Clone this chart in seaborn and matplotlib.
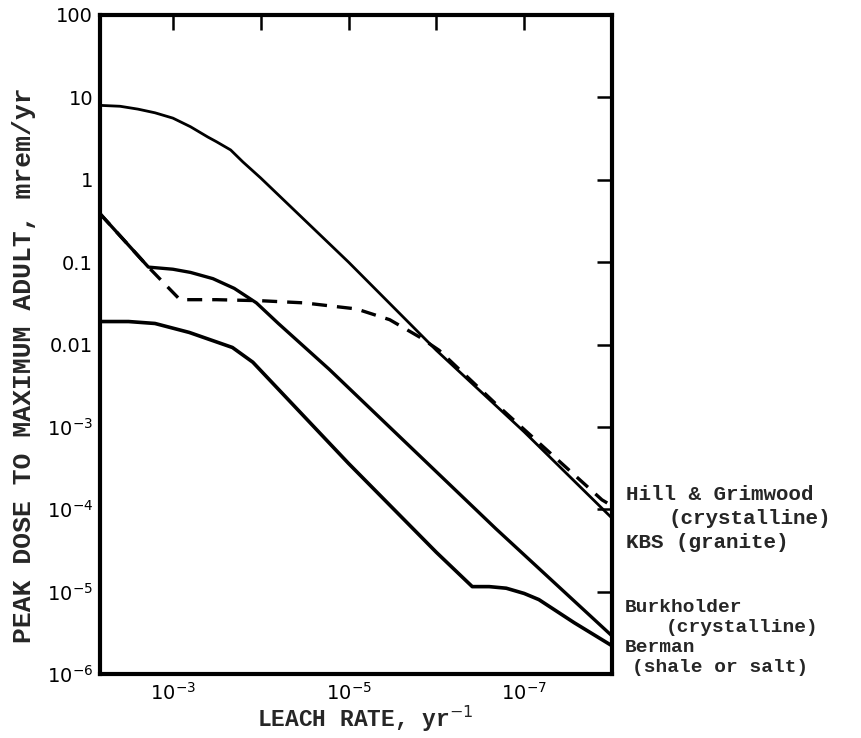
import numpy as np
import pandas as pd
import matplotlib
matplotlib.use("Agg")
import matplotlib.pyplot as plt
import seaborn as sns

# ---- data (leach rate yr^-1, dose mrem/yr) ----
hill_rate = [6.8e-3, 4e-3, 2.5e-3, 1.6e-3, 1e-3, 6.3e-4, 4e-4, 3.2e-4, 2.2e-4, 1.6e-4, 1e-4, 1e-5, 1e-6, 1e-7, 1e-8]
hill_dose = [8.0, 7.8, 7.2, 6.5, 5.6, 4.4, 3.3, 2.9, 2.3, 1.65, 1.05, 0.1, 0.0085, 8.7e-4, 7.8e-5]

burk_rate = [6.8e-3, 1.9e-3, 1e-3, 6.3e-4, 3.5e-4, 2e-4, 1.12e-4, 6.3e-5, 1.66e-5, 2.1e-7, 1e-8]
burk_dose = [0.39, 0.087, 0.082, 0.075, 0.063, 0.048, 0.032, 0.018, 0.005, 5.8e-5, 2.9e-6]

kbs_rate = [6.8e-3, 1.9e-3, 8.3e-4, 3.2e-4, 1e-4, 3.2e-5, 8.1e-6, 3.4e-6, 1.55e-6, 9.3e-7, 2.1e-7, 1.3e-8, 1e-8]
kbs_dose = [0.39, 0.087, 0.035, 0.035, 0.034, 0.032, 0.027, 0.020, 0.0123, 0.0085, 1.9e-3, 1.3e-4, 1.1e-4]

berm_rate = [6.8e-3, 3.2e-3, 1.6e-3, 6.5e-4, 2.1e-4, 1.23e-4, 1e-5, 1e-6, 3.9e-7, 2.5e-7, 1.6e-7, 1e-7, 6.8e-8, 2.7e-8, 1e-8]
berm_dose = [0.019, 0.019, 0.018, 0.014, 0.0092, 0.0061, 3.6e-4, 3e-5, 1.15e-5, 1.15e-5, 1.1e-5, 9.5e-6, 8e-6, 4.2e-6, 2.2e-6]

y_ticks = [1e-6, 1e-5, 1e-4, 1e-3, 1e-2, 1e-1, 1, 10, 100]
y_tick_labels = ["$10^{-6}$", "$10^{-5}$", "$10^{-4}$", "$10^{-3}$", "0.01", "0.1", "1", "10", "100"]
x_ticks = [1e-3, 1e-4, 1e-5, 1e-6, 1e-7]
x_tick_labels = ["$10^{-3}$", "", "$10^{-5}$", "", "$10^{-7}$"]

sns.set_theme(style="white")
plt.rcParams["font.family"] = ["DejaVu Sans"]
plt.rcParams["mathtext.fontset"] = "dejavusans"

W, H = 861, 738
fig = plt.figure(figsize=(W / 100, H / 100), dpi=100)
L, R, T, B = 100, 612, 15, 674
ax = fig.add_axes([L / W, 1 - B / H, (R - L) / W, (B - T) / H])

mono = {"family": "Liberation Mono", "weight": "bold"}

def draw(rate, dose, **kw):
    df = pd.DataFrame({"rate": rate, "dose": dose})
    sns.lineplot(data=df, x="rate", y="dose", ax=ax, color="black",
                 sort=False, estimator=None, **kw)

draw(hill_rate, hill_dose, linewidth=2.0)
draw(burk_rate, burk_dose, linewidth=2.4)
draw(berm_rate, berm_dose, linewidth=2.6)
draw(kbs_rate, kbs_dose, linewidth=2.4, dashes=(4.5, 3.0))

ax.set_xscale("log")
ax.set_yscale("log")
ax.set_xlim(10 ** -2.17, 1e-8)
ax.set_ylim(1e-6, 100)

ax.set_yticks(y_ticks)
ax.set_yticklabels(y_tick_labels)
ax.set_xticks(x_ticks)
ax.set_xticklabels(x_tick_labels)
ax.minorticks_off()
ax.tick_params(axis="both", which="major", direction="in", length=11, width=1.8,
               top=True, right=True, labelsize=14, color="black", labelcolor="black")
ax.tick_params(axis="x", pad=6)
ax.tick_params(axis="y", pad=5)

for s in ax.spines.values():
    s.set_linewidth(3.0)
    s.set_color("black")

ax.set_xlabel("LEACH RATE, yr$^{-1}$", fontdict=dict(mono, size=16.5))
ax.set_ylabel("PEAK DOSE TO MAXIMUM ADULT, mrem/yr", fontdict=dict(mono, size=19))
ax.yaxis.set_label_coords(-(L - 36) / (R - L), (B - 365) / (B - T))
ax.xaxis.set_label_coords((365 - L) / (R - L), -(719 - B) / (B - T))
ax.xaxis.label.set_va("center")

def ftext(x, y, s, size=15):
    fig.text(x / W, 1 - y / H, s, ha="left", va="center", fontsize=size, **mono)

ftext(626, 495, "Hill & Grimwood")
ftext(668, 519, "(crystalline)")
ftext(626, 542, "KBS (granite)")
ftext(625, 607, "Burkholder", 14)
ftext(666, 627, "(crystalline)", 14)
ftext(625, 647, "Berman", 14)
ftext(632, 667, "(shale or salt)", 14)

fig.savefig("out.png", dpi=100, facecolor="white")
